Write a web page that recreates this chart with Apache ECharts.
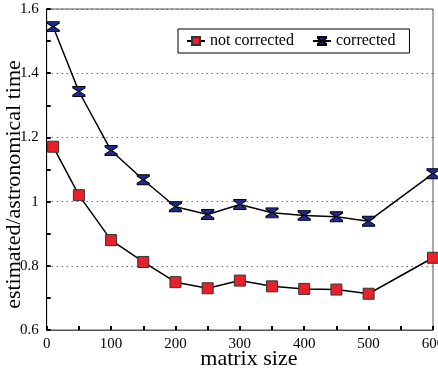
<!DOCTYPE html>
<html>
<head>
<meta charset="utf-8">
<script src="https://cdn.jsdelivr.net/npm/echarts@6/dist/echarts.min.js"></script>
<style>
  html, body { margin: 0; padding: 0; background: #fff; }
  #chart { width: 438px; height: 371px; }
</style>
</head>
<body>
<div id="chart"></div>
<script>
// matrix sizes on the x axis
var sizes = [10, 50, 100, 150, 200, 250, 300, 350, 400, 450, 500, 600];
// estimated/astronomical time ratios
var notCorrected = [1.171, 1.020, 0.880, 0.812, 0.749, 0.730, 0.754, 0.736, 0.728, 0.726, 0.713, 0.825];
var corrected = [1.545, 1.343, 1.159, 1.068, 0.984, 0.960, 0.991, 0.965, 0.957, 0.953, 0.939, 1.087];

function pairs(xs, ys) {
    var out = [];
    for (var i = 0; i < xs.length; i++) out.push([xs[i], ys[i]]);
    return out;
}

var chart = echarts.init(document.getElementById('chart'));
var font = 'Liberation Serif, Times New Roman, serif';
var hourglass = 'path://M0,0 L12,0 L12,1.5 L6.6,5 L12,8.5 L12,10 L0,10 L0,8.5 L5.4,5 L0,1.5 Z';

var option = {
    animation: false,
    grid: {
        left: 46.7,
        right: 5,
        top: 9,
        bottom: 41,
        containLabel: false,
        outerBoundsMode: 'none',
        show: true,
        borderColor: '#555',
        borderWidth: 1
    },
    legend: {
        left: 178,
        top: 29,
        padding: [4, 14, 4, 8],
        borderColor: '#000',
        borderWidth: 1,
        itemWidth: 18,
        itemHeight: 10,
        itemGap: 18,
        textStyle: { fontFamily: font, fontSize: 16, color: '#000' },
        data: ['not corrected', 'corrected']
    },
    xAxis: {
        type: 'value',
        min: 0,
        max: 600,
        interval: 100,
        name: 'matrix size',
        nameLocation: 'middle',
        nameGap: 18,
        nameMoveOverlap: false,
        nameTextStyle: { fontFamily: font, fontSize: 22, color: '#000', padding: [0, 0, 0, 18] },
        axisLine: { lineStyle: { color: '#555', width: 1 } },
        axisTick: { inside: true, length: 4, lineStyle: { color: '#000', width: 2 } },
        minorTick: { show: true, splitNumber: 2, length: 4, lineStyle: { color: '#000', width: 2 } },
        axisLabel: { fontFamily: font, fontSize: 15, color: '#000', margin: 7 },
        splitLine: { show: false }
    },
    yAxis: {
        type: 'value',
        min: 0.6,
        max: 1.6,
        interval: 0.2,
        name: 'estimated/astronomical time',
        nameLocation: 'middle',
        nameGap: 21,
        nameMoveOverlap: false,
        nameTextStyle: { fontFamily: font, fontSize: 22, color: '#000', padding: [0, 30, 0, 0] },
        axisLine: { show: true, lineStyle: { color: '#000', width: 1 } },
        axisTick: { inside: true, length: 4, lineStyle: { color: '#000', width: 2 } },
        minorTick: { show: true, splitNumber: 2, length: 4, lineStyle: { color: '#000', width: 2 } },
        axisLabel: {
            fontFamily: font, fontSize: 15, color: '#000', margin: 8,
            formatter: function (v) { return String(Math.round(v * 10) / 10); }
        },
        splitLine: { show: true, lineStyle: { color: '#333', type: [1, 4], width: 1 } }
    },
    series: [
        {
            name: 'not corrected',
            type: 'line',
            data: pairs(sizes, notCorrected),
            symbol: 'rect',
            symbolSize: 11,
            lineStyle: { color: '#000', width: 1.5 },
            itemStyle: { color: '#e8202a', borderColor: '#333', borderWidth: 1 }
        },
        {
            name: 'corrected',
            type: 'line',
            data: pairs(sizes, corrected),
            symbol: hourglass,
            symbolSize: [12, 10],
            lineStyle: { color: '#000', width: 1.5 },
            itemStyle: { color: '#1f2a8c', borderColor: '#000', borderWidth: 1 }
        }
    ]
};
chart.setOption(option);
</script>
</body>
</html>
